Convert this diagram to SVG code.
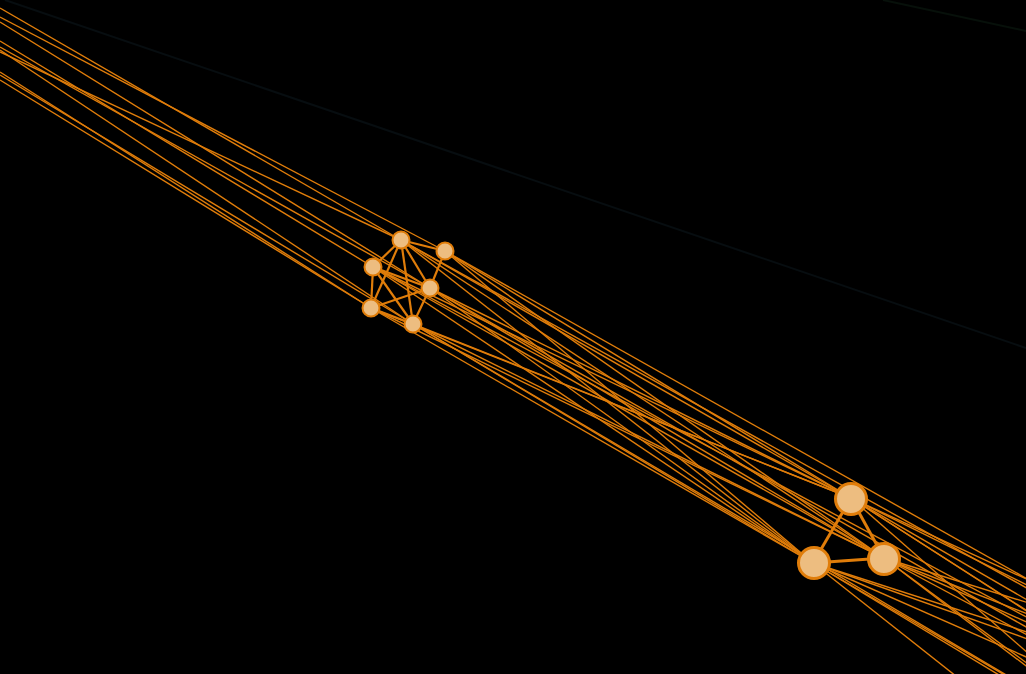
<svg xmlns="http://www.w3.org/2000/svg" width="1026" height="674" viewBox="0 0 1026 674">
<style>
.e{stroke:#E07D0A;stroke-width:1.4;fill:none}
.k{stroke:#E07D0A;stroke-width:2.2;fill:none}
.big{stroke:#E07D0A;stroke-width:3;fill:none}
.n{fill:#EDBD80;stroke:#E07D0A;stroke-width:2}
.nb{fill:#EDBD80;stroke:#E07D0A;stroke-width:3}
</style>
<rect width="1026" height="674" fill="#000"/>
<line x1="5" y1="0" x2="1026" y2="348" stroke="#070d10" stroke-width="2"/>
<line x1="883" y1="0" x2="1026" y2="31" stroke="#07100a" stroke-width="2"/>
<g id="connectors">
<line class="e" x1="0" y1="8" x2="401" y2="240"/>
<line class="e" x1="0" y1="17" x2="445" y2="251"/>
<line class="e" x1="0" y1="22" x2="430" y2="288"/>
<line class="e" x1="0" y1="41" x2="373" y2="267"/>
<line class="e" x1="0" y1="47" x2="430" y2="288"/>
<line class="e" x1="0" y1="50" x2="413" y2="324"/>
<line class="e" x1="0" y1="52" x2="401" y2="240"/>
<line class="e" x1="0" y1="72" x2="371" y2="308"/>
<line class="e" x1="0" y1="75" x2="413" y2="324"/>
<line class="e" x1="0" y1="80" x2="371" y2="308"/>
<line class="k" x1="401" y1="240" x2="445" y2="251"/>
<line class="k" x1="401" y1="240" x2="373" y2="267"/>
<line class="k" x1="401" y1="240" x2="430" y2="288"/>
<line class="k" x1="401" y1="240" x2="371" y2="308"/>
<line class="k" x1="401" y1="240" x2="413" y2="324"/>
<line class="k" x1="445" y1="251" x2="430" y2="288"/>
<line class="k" x1="373" y1="267" x2="430" y2="288"/>
<line class="k" x1="373" y1="267" x2="371" y2="308"/>
<line class="k" x1="373" y1="267" x2="413" y2="324"/>
<line class="k" x1="430" y1="288" x2="371" y2="308"/>
<line class="k" x1="430" y1="288" x2="413" y2="324"/>
<line class="k" x1="371" y1="308" x2="413" y2="324"/>
<line class="e" x1="401" y1="240" x2="851" y2="498"/>
<line class="e" x1="401" y1="240" x2="813" y2="563"/>
<line class="e" x1="401" y1="240" x2="884" y2="558"/>
<line class="e" x1="445" y1="251" x2="851" y2="498"/>
<line class="e" x1="445" y1="251" x2="813" y2="563"/>
<line class="e" x1="445" y1="251" x2="884" y2="558"/>
<line class="e" x1="373" y1="267" x2="851" y2="498"/>
<line class="e" x1="373" y1="267" x2="813" y2="563"/>
<line class="e" x1="373" y1="267" x2="884" y2="558"/>
<line class="e" x1="430" y1="288" x2="851" y2="498"/>
<line class="e" x1="430" y1="288" x2="813" y2="563"/>
<line class="e" x1="430" y1="288" x2="884" y2="558"/>
<line class="e" x1="371" y1="308" x2="851" y2="498"/>
<line class="e" x1="371" y1="308" x2="813" y2="563"/>
<line class="e" x1="371" y1="308" x2="884" y2="558"/>
<line class="e" x1="413" y1="324" x2="851" y2="498"/>
<line class="e" x1="413" y1="324" x2="813" y2="563"/>
<line class="e" x1="413" y1="324" x2="884" y2="558"/>
<line class="e" x1="401" y1="240" x2="1300" y2="740"/>
<line class="e" x1="445" y1="251" x2="1180" y2="665"/>
<line class="e" x1="430" y1="288" x2="1260" y2="760"/>
<line class="e" x1="413" y1="324" x2="1150" y2="760"/>
<line class="e" x1="373" y1="267" x2="1200" y2="710"/>
<line class="big" x1="851" y1="498" x2="813" y2="563"/>
<line class="big" x1="851" y1="498" x2="884" y2="558"/>
<line class="big" x1="813" y1="563" x2="884" y2="558"/>
<line class="e" x1="851" y1="498" x2="1180" y2="650"/>
<line class="e" x1="851" y1="498" x2="1200" y2="700"/>
<line class="e" x1="851" y1="498" x2="1300" y2="720"/>
<line class="e" x1="851" y1="498" x2="1260" y2="760"/>
<line class="e" x1="851" y1="498" x2="1320" y2="800"/>
<line class="e" x1="851" y1="498" x2="1150" y2="760"/>
<line class="e" x1="884" y1="558" x2="1180" y2="650"/>
<line class="e" x1="884" y1="558" x2="1200" y2="700"/>
<line class="e" x1="884" y1="558" x2="1260" y2="760"/>
<line class="e" x1="884" y1="558" x2="1150" y2="760"/>
<line class="e" x1="884" y1="558" x2="1240" y2="820"/>
<line class="e" x1="884" y1="558" x2="1300" y2="720"/>
<line class="e" x1="813" y1="563" x2="1100" y2="790"/>
<line class="e" x1="813" y1="563" x2="1150" y2="760"/>
<line class="e" x1="813" y1="563" x2="1200" y2="700"/>
<line class="e" x1="813" y1="563" x2="1260" y2="760"/>
<line class="e" x1="813" y1="563" x2="1240" y2="820"/>
<line class="e" x1="813" y1="563" x2="1300" y2="720"/>
</g>
<g id="node-a"><circle class="n" cx="401" cy="240" r="8.5"/></g>
<g id="node-b"><circle class="n" cx="445" cy="251" r="8.5"/></g>
<g id="node-c"><circle class="n" cx="373" cy="267" r="8.5"/></g>
<g id="node-d"><circle class="n" cx="430" cy="288" r="8.5"/></g>
<g id="node-e"><circle class="n" cx="371" cy="308" r="8.5"/></g>
<g id="node-f"><circle class="n" cx="413" cy="324" r="8.5"/></g>
<g id="node-g"><circle class="nb" cx="851" cy="499" r="15.5"/></g>
<g id="node-h"><circle class="nb" cx="814" cy="563" r="15.5"/></g>
<g id="node-i"><circle class="nb" cx="884" cy="559" r="15.5"/></g>
</svg>
